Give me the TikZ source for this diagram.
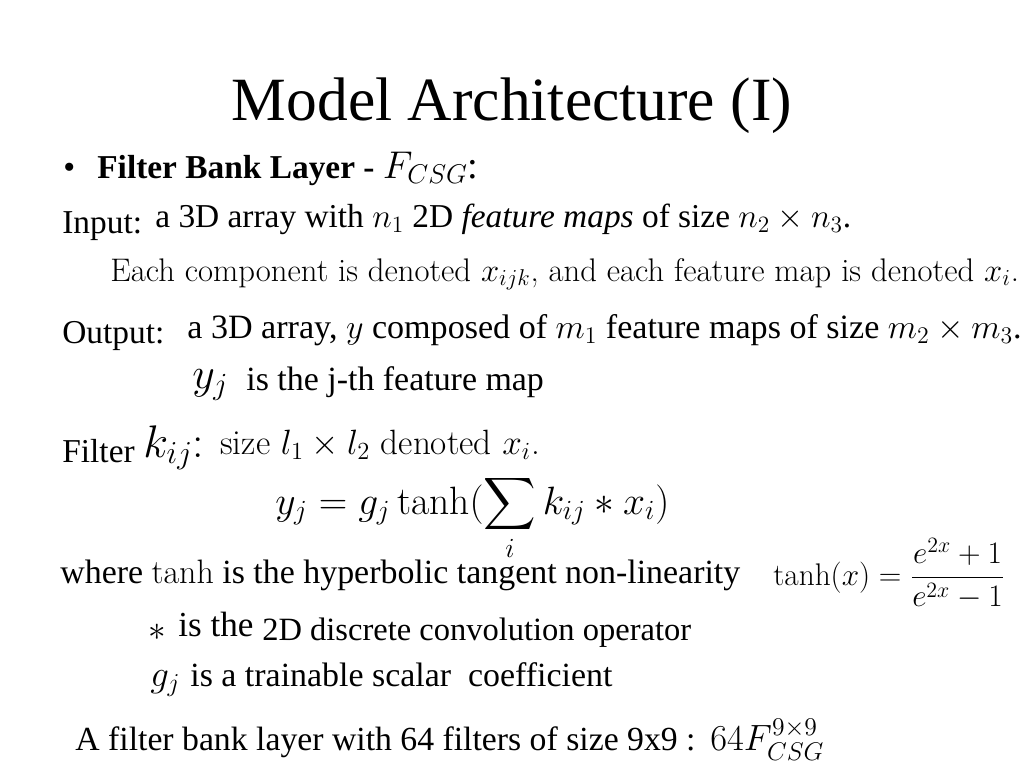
\documentclass[tikz,border=0pt]{standalone}
\usepackage{fix-cm}
\usepackage{amsmath}
\usepackage{fontspec}
\newfontfamily\tms{Liberation Serif}
\usetikzlibrary{positioning}

\tikzset{
  tmtext/.style={anchor=base west, inner sep=0pt, font=\tms\fontsize{19.3}{22}\selectfont},
  lmtext/.style={anchor=base west, inner sep=0pt, font=\fontsize{19}{22}\selectfont},
}

\begin{document}
\begin{tikzpicture}[x=0.02cm, y=-0.02cm]
	\useasboundingbox (0,0) rectangle (1024,768);
	\node[anchor=base, inner sep=0pt, font=\tms\fontsize{35}{40}\selectfont] (T) at (512,120) {Model Architecture (I)};
	% filter bank layer
	\node[tmtext] (B) at (63,178) {\textbullet};
	\node[tmtext, font=\tms\bfseries\fontsize{19}{22}\selectfont] (FB) at (97,178) {Filter Bank Layer - \mdseries\fontsize{22}{26}\selectfont$F_{CSG}$:};
	\node[tmtext, font=\tms\fontsize{19}{22}\selectfont] (I) at (62,233) {Input:};
	\node[tmtext, font=\tms\fontsize{19}{22}\selectfont] (In) at (155,227) {a 3D array with $n_1$ 2D \textit{feature maps} of size $n_2\times n_3$.};
	\node[lmtext, font=\fontsize{18.6}{22}\selectfont] (Ec) at (110,281) {Each component is denoted $x_{ijk}$, and each feature map is denoted $x_i$.};
	\node[tmtext, font=\tms\fontsize{19}{22}\selectfont] (O) at (62,343) {Output:};
	\node[tmtext, font=\tms\fontsize{19.4}{22}\selectfont] (Ou) at (187,338) {a 3D array, $y$ composed of $m_1$ feature maps of size $m_2\times m_3$.};
	\node[lmtext, font=\fontsize{25}{28}\selectfont] (Y) at (192,388) {$y_j$};
	\node[tmtext] (Yt) at (246,390) {is the j-th feature map};
	% filter
	\node[tmtext, font=\tms\fontsize{19}{22}\selectfont] (Fi) at (62,462) {Filter};
	\node[lmtext, font=\fontsize{26}{30}\selectfont] (K) at (143,457) {$k_{ij}$:};
	\node[lmtext, font=\fontsize{20}{24}\selectfont] (Ks) at (220,454) {size $l_1\times l_2$ denoted $x_i$.};
	\node[lmtext, font=\fontsize{22.5}{26}\selectfont] (Eq) at (275,514) {$\displaystyle y_j = g_j\tanh(\sum_i k_{ij} * x_i)$};
	\node[tmtext] (W) at (60,583) {where $\tanh$ is the hyperbolic tangent non-linearity};
	\node[lmtext, font=\fontsize{17.8}{20}\selectfont] (Th) at (773,585) {$\displaystyle\tanh(x) = \frac{e^{2x}+1}{e^{2x}-1}$};
	\node[lmtext, font=\fontsize{20}{24}\selectfont] (St) at (148,640) {$*$};
	\node[tmtext, font=\tms\fontsize{20}{24}\selectfont] (Sa) at (178,636) {is the};
	\node[tmtext, font=\tms\fontsize{18.5}{22}\selectfont] (Sb) at (262,640) {2D discrete convolution operator};
	\node[lmtext, font=\fontsize{21}{24}\selectfont] (G) at (150,686) {$g_j$};
	\node[tmtext, font=\tms\fontsize{19.3}{22}\selectfont] (Gt) at (190,686) {is a trainable scalar\ \ coefficient};
	\node[tmtext, font=\tms\fontsize{19.2}{22}\selectfont] (A) at (75,750) {A filter bank layer with 64 filters of size 9x9 :};
	\node[lmtext, font=\fontsize{20.8}{24}\selectfont] (Af) at (710,750) {$64F_{CSG}^{9\times 9}$};
\end{tikzpicture}
\end{document}
